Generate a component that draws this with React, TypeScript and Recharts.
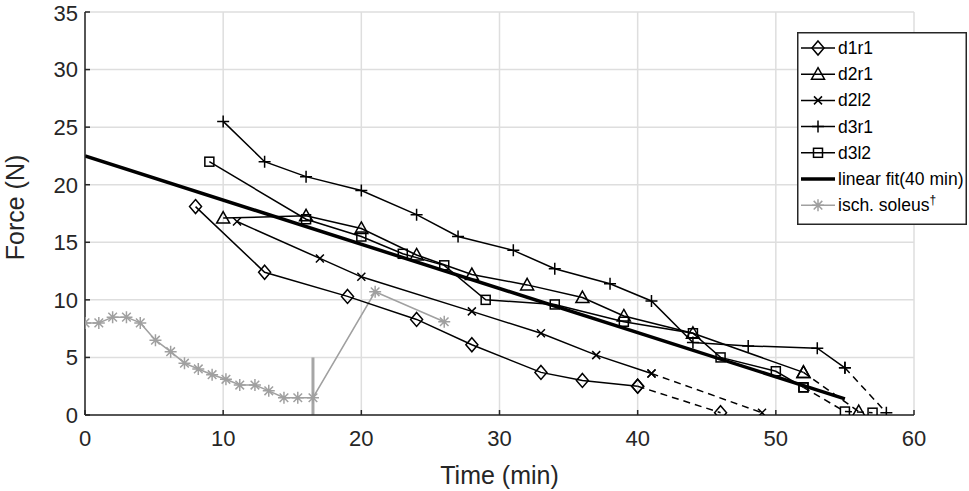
import React from 'react';
import { LineChart, Line, XAxis, YAxis, CartesianGrid, Legend, ReferenceLine, Label } from 'recharts';

type Pt = { t: number; f: number };

const xTicks = [0, 10, 20, 30, 40, 50, 60];
const yTicks = [0, 5, 10, 15, 20, 25, 30, 35];

const d1r1: Pt[] = [
  { t: 8, f: 18.1 }, { t: 13, f: 12.4 }, { t: 19, f: 10.3 }, { t: 24, f: 8.3 },
  { t: 28, f: 6.1 }, { t: 33, f: 3.7 }, { t: 36, f: 3.0 }, { t: 40, f: 2.5 },
];
const d1r1Dash: Pt[] = [{ t: 40, f: 2.5 }, { t: 46, f: 0.2 }];

const d2r1: Pt[] = [
  { t: 10, f: 17.1 }, { t: 16, f: 17.3 }, { t: 20, f: 16.2 }, { t: 24, f: 13.9 },
  { t: 28, f: 12.2 }, { t: 32, f: 11.3 }, { t: 36, f: 10.2 }, { t: 39, f: 8.6 },
  { t: 44, f: 7.1 }, { t: 52, f: 3.7 },
];
const d2r1Dash: Pt[] = [{ t: 52, f: 3.7 }, { t: 56, f: 0.3 }];

const d2l2: Pt[] = [
  { t: 11, f: 16.8 }, { t: 17, f: 13.6 }, { t: 20, f: 12.0 }, { t: 28, f: 9.0 },
  { t: 33, f: 7.1 }, { t: 37, f: 5.2 }, { t: 41, f: 3.6 },
];
const d2l2Dash: Pt[] = [{ t: 41, f: 3.6 }, { t: 49, f: 0.2 }];

const d3r1: Pt[] = [
  { t: 10, f: 25.5 }, { t: 13, f: 22.0 }, { t: 16, f: 20.7 }, { t: 20, f: 19.5 },
  { t: 24, f: 17.4 }, { t: 27, f: 15.5 }, { t: 31, f: 14.3 }, { t: 34, f: 12.7 },
  { t: 38, f: 11.4 }, { t: 41, f: 9.9 }, { t: 44, f: 6.3 }, { t: 48, f: 6.0 },
  { t: 53, f: 5.8 }, { t: 55, f: 4.1 },
];
const d3r1Dash: Pt[] = [{ t: 55, f: 4.1 }, { t: 58, f: 0.2 }];

const d3l2: Pt[] = [
  { t: 9, f: 22.0 }, { t: 16, f: 17.0 }, { t: 20, f: 15.5 }, { t: 23, f: 14.0 },
  { t: 26, f: 13.0 }, { t: 29, f: 10.0 }, { t: 34, f: 9.6 }, { t: 39, f: 8.1 },
  { t: 44, f: 7.1 }, { t: 46, f: 5.0 }, { t: 50, f: 3.8 }, { t: 52, f: 2.4 },
];
const d3l2Dash: Pt[] = [{ t: 52, f: 2.4 }, { t: 55, f: 0.3 }, { t: 57, f: 0.2 }];

const linearFit: Pt[] = [{ t: 0, f: 22.5 }, { t: 55, f: 1.4 }];

const ischSoleus: Pt[] = [
  { t: 0, f: 8.0 }, { t: 1, f: 8.0 }, { t: 2, f: 8.5 }, { t: 3, f: 8.5 },
  { t: 4, f: 8.0 }, { t: 5.1, f: 6.5 }, { t: 6.2, f: 5.5 }, { t: 7.2, f: 4.5 },
  { t: 8.2, f: 4.0 }, { t: 9.2, f: 3.5 }, { t: 10.2, f: 3.1 }, { t: 11.2, f: 2.6 },
  { t: 12.3, f: 2.6 }, { t: 13.3, f: 2.1 }, { t: 14.4, f: 1.5 }, { t: 15.4, f: 1.5 },
  { t: 16.5, f: 1.5 }, { t: 21, f: 10.7 }, { t: 26, f: 8.1 },
];
const ischMark = { t: 16.5, from: 0, to: 5 };

const legendNames = ['d1r1', 'd2r1', 'd2l2', 'd3r1', 'd3l2', 'linear fit(40 min)', 'isch. soleus'];
const legendShapes = ['diamond', 'triangle', 'x', 'plus', 'square', 'none', 'star'];

const FONT = '"Liberation Sans", Arial, Helvetica, sans-serif';
const AX = '#262626';
const GRAY = '#a0a0a0';

function Marker({ shape, cx, cy, color }: { shape: string; cx: number; cy: number; color: string }) {
  const sw = 1.5;
  if (shape === 'diamond')
    return <path d={`M${cx},${cy - 7}L${cx + 6},${cy}L${cx},${cy + 7}L${cx - 6},${cy}Z`} fill="none" stroke={color} strokeWidth={sw} />;
  if (shape === 'triangle')
    return <path d={`M${cx},${cy - 6.5}L${cx + 6.5},${cy + 5}L${cx - 6.5},${cy + 5}Z`} fill="none" stroke={color} strokeWidth={sw} />;
  if (shape === 'square')
    return <rect x={cx - 4.5} y={cy - 4.5} width={9} height={9} fill="none" stroke={color} strokeWidth={sw} />;
  if (shape === 'x')
    return <path d={`M${cx - 4},${cy - 4}L${cx + 4},${cy + 4}M${cx - 4},${cy + 4}L${cx + 4},${cy - 4}`} stroke={color} strokeWidth={sw} />;
  if (shape === 'plus')
    return <path d={`M${cx - 6},${cy}L${cx + 6},${cy}M${cx},${cy - 6}L${cx},${cy + 6}`} stroke={color} strokeWidth={sw} />;
  if (shape === 'star')
    return <path d={`M${cx - 6},${cy}L${cx + 6},${cy}M${cx},${cy - 6}L${cx},${cy + 6}M${cx - 4.3},${cy - 4.3}L${cx + 4.3},${cy + 4.3}M${cx - 4.3},${cy + 4.3}L${cx + 4.3},${cy - 4.3}`} stroke={color} strokeWidth={sw} />;
  return null;
}

const dotFor = (shape: string, color: string, id: string) => (p: any) => (
  <Marker key={`${id}-${p.index}`} shape={shape} cx={p.cx} cy={p.cy} color={color} />
);

function LegendBox() {
  const rowH = 26.2;
  return (
    <svg width={170} height={193} style={{ display: 'block' }}>
      <rect x={0.75} y={0.75} width={168.5} height={191.5} fill="#fff" stroke={AX} strokeWidth={1.5} />
      {legendNames.map((name, i) => {
        const cy = 16 + i * rowH;
        const isFit = legendShapes[i] === 'none';
        const color = legendShapes[i] === 'star' ? GRAY : '#000';
        return (
          <g key={name}>
            <line x1={4} x2={38} y1={cy} y2={cy} stroke={color} strokeWidth={isFit ? 3.5 : 1.5} />
            <Marker shape={legendShapes[i]} cx={21} cy={cy} color={color} />
            <text x={41} y={cy + 6} fontSize={17.5} fontFamily={FONT} fill="#000">
              {name}
              {legendShapes[i] === 'star' ? <tspan dy={-7} fontSize={12}>†</tspan> : null}
            </text>
          </g>
        );
      })}
    </svg>
  );
}

const series = [
  { id: 'd1r1', data: d1r1, dash: d1r1Dash, shape: 'diamond' },
  { id: 'd2r1', data: d2r1, dash: d2r1Dash, shape: 'triangle' },
  { id: 'd2l2', data: d2l2, dash: d2l2Dash, shape: 'x' },
  { id: 'd3r1', data: d3r1, dash: d3r1Dash, shape: 'plus' },
  { id: 'd3l2', data: d3l2, dash: d3l2Dash, shape: 'square' },
];

export default function App() {
  return (
    <div style={{ position: 'absolute', left: 0, top: 0, width: 969, height: 491, background: '#fff' }}>
      <LineChart width={969} height={491} margin={{ top: 12, right: 55, bottom: 0, left: 0 }}>
        <CartesianGrid stroke="#dedede" strokeWidth={1.5} />
        <XAxis
          dataKey="t"
          type="number"
          domain={[0, 60]}
          ticks={xTicks}
          allowDataOverflow
          height={76}
          axisLine={{ stroke: AX, strokeWidth: 1.5 }}
          tickLine={{ stroke: AX, strokeWidth: 1.5 }}
          tickSize={-5}
          tickMargin={20}
          tick={{ fontSize: 22, fill: AX, fontFamily: FONT }}
        >
          <Label
            content={(p: any) => {
              const vb = p.viewBox || { x: 85, y: 415, width: 829, height: 76 };
              return (
                <text x={vb.x + vb.width / 2} y={vb.y + 69} textAnchor="middle" fontSize={25} fontFamily={FONT} fill={AX}>
                  Time (min)
                </text>
              );
            }}
          />
        </XAxis>
        <YAxis
          type="number"
          domain={[0, 35]}
          ticks={yTicks}
          allowDataOverflow
          width={85}
          axisLine={{ stroke: AX, strokeWidth: 1.5 }}
          tickLine={{ stroke: AX, strokeWidth: 1.5 }}
          tickSize={-5}
          tickMargin={12}
          tick={{ fontSize: 22, fill: AX, fontFamily: FONT }}
        >
          <Label
            content={(p: any) => {
              const vb = p.viewBox || { x: 0, y: 12, width: 85, height: 403 };
              const x = vb.x + 24;
              const y = vb.y + vb.height / 2 - 6;
              return (
                <text x={x} y={y} textAnchor="middle" fontSize={25} fontFamily={FONT} fill={AX} transform={`rotate(-90, ${x}, ${y})`}>
                  Force (N)
                </text>
              );
            }}
          />
        </YAxis>
        <ReferenceLine
          segment={[{ x: ischMark.t, y: ischMark.from }, { x: ischMark.t, y: ischMark.to }]}
          stroke="#a6a6a6"
          strokeWidth={3}
        />
        <Line
          data={ischSoleus}
          dataKey="f"
          type="linear"
          stroke={GRAY}
          strokeWidth={1.5}
          dot={dotFor('star', GRAY, 'isch')}
          activeDot={false}
          isAnimationActive={false}
        />
        {series.map((s) => (
          <Line
            key={s.id}
            data={s.data}
            dataKey="f"
            type="linear"
            stroke="#000"
            strokeWidth={1.5}
            dot={dotFor(s.shape, '#000', s.id)}
            activeDot={false}
            isAnimationActive={false}
          />
        ))}
        {series.map((s) => (
          <Line
            key={s.id + '-dash'}
            data={s.dash}
            dataKey="f"
            type="linear"
            stroke="#000"
            strokeWidth={1.5}
            strokeDasharray="7 5"
            dot={dotFor(s.shape, '#000', s.id + 'd')}
            activeDot={false}
            isAnimationActive={false}
          />
        ))}
        <Line
          data={linearFit}
          dataKey="f"
          type="linear"
          stroke="#000"
          strokeWidth={3.5}
          dot={false}
          activeDot={false}
          isAnimationActive={false}
        />
        <Legend
          layout="vertical"
          verticalAlign="middle"
          align="center"
          content={() => <LegendBox />}
          wrapperStyle={{ position: 'absolute', left: 797, top: 32, width: 170, height: 193, margin: 0, padding: 0 }}
        />
      </LineChart>
    </div>
  );
}
